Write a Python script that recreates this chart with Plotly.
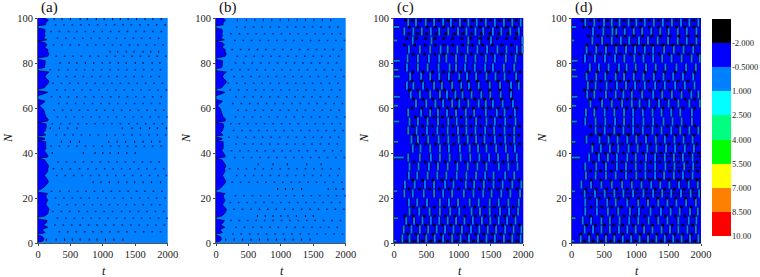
import plotly.graph_objects as go

LEVELS = [-3.5, -2, -0.5, 1, 2.5, 4, 5.5, 7, 8.5, 10]
LEVEL_COLORS = ["#000000", "#0000ff", "#0080ff", "#00ffff", "#00ff80", "#00ff00", "#ffff00", "#ff8000", "#ff0000"]
LEVEL_LABELS = ["-2.000", "-0.5000", "1.000", "2.500", "4.000", "5.500", "7.000", "8.500", "10.00"]
PANEL_NAMES = ["(a)", "(b)", "(c)", "(d)"]
X_TICKS = [0, 500, 1000, 1500, 2000]
Y_TICKS = [0, 20, 40, 60, 80, 100]
BASE_VALUES = [0.25, 0.25, -1.25, -1.25]

a_left_N = [0.4, 1, 2, 3, 3.4, 4, 4.6, 6, 7, 8, 9, 10, 10.6, 11.4, 12, 13, 14, 15, 16, 17, 18, 19, 20, 21, 22, 22.6, 23.4, 24, 25, 26, 27, 28, 29, 30, 31, 32, 33, 34, 35, 36, 37, 37.6, 38.2, 39, 40, 41, 42, 43, 44, 45, 45.5, 46, 46.6, 47, 47.5, 48, 49, 50, 51, 52, 53, 53.6, 54.2, 55, 56, 57, 58, 59, 60, 61, 62, 63, 63.8, 65.5, 66, 67, 67.7, 68.4, 69, 70, 71, 72, 73, 74, 75, 76, 76.6, 77.4, 78, 79, 80, 81, 81.6, 82.2, 83, 84, 85, 86, 87, 88, 89, 89.7, 90.3, 91, 92, 93, 94, 95, 95.5, 96.6, 97, 98, 99, 100]
a_left_t = [0, 80, 90, 60, 0, 0, 110, 60, 150, 80, 130, 140, 0, 0, 100, 150, 160, 170, 150, 120, 130, 150, 130, 120, 150, 0, 0, 50, 100, 130, 160, 150, 130, 100, 130, 150, 150, 165, 150, 130, 100, 0, 150, 150, 120, 100, 120, 120, 120, 120, 0, 100, 100, 0, 0, 120, 80, 110, 120, 130, 120, 0, 150, 160, 120, 110, 90, 90, 60, 20, 70, 110, 0, 0, 60, 150, 0, 0, 100, 120, 160, 170, 130, 110, 130, 170, 0, 0, 100, 110, 110, 110, 0, 0, 150, 170, 150, 150, 100, 140, 110, 0, 140, 80, 110, 100, 110, 100, 0, 0, 120, 120, 160, 110]

b_left_N = [0.4, 1, 2, 3, 3.4, 4, 4.6, 6, 7, 8, 9, 10, 10.6, 11.4, 12, 13, 14, 15, 16, 17, 18, 19, 20, 21, 22, 22.6, 23.4, 24, 25, 26, 27, 28, 29, 30, 31, 32, 33, 34, 35, 36, 37, 37.6, 38.2, 39, 40, 41, 42, 43, 44, 45, 45.5, 46, 46.6, 47, 47.5, 48, 49, 50, 51, 52, 53, 53.6, 54.2, 55, 56, 57, 58, 59, 60, 61, 62, 63, 63.8, 65.5, 66, 67, 67.7, 68.4, 69, 70, 71, 72, 73, 74, 75, 76, 76.6, 77.4, 78, 79, 80, 81, 81.6, 82.2, 83, 84, 85, 86, 87, 88, 89, 89.7, 90.3, 91, 92, 93, 94, 95, 95.5, 96.6, 97, 98, 99, 100]
b_left_t = [0, 70, 85, 60, 0, 0, 100, 60, 140, 70, 110, 130, 0, 0, 90, 130, 150, 160, 130, 100, 120, 140, 120, 110, 140, 0, 0, 50, 90, 120, 150, 140, 120, 100, 120, 140, 130, 150, 140, 120, 90, 0, 140, 140, 110, 90, 110, 110, 110, 110, 0, 90, 90, 0, 0, 110, 70, 100, 110, 120, 110, 0, 140, 150, 110, 100, 80, 80, 60, 20, 60, 100, 0, 0, 60, 140, 0, 0, 90, 110, 150, 160, 120, 100, 120, 160, 0, 0, 90, 100, 100, 100, 0, 0, 140, 160, 140, 140, 90, 130, 100, 0, 130, 70, 100, 90, 100, 90, 0, 0, 110, 110, 150, 100]

a_strong_N = [80, 27, 1.5, 45, 40, 85, 51, 99.5]
a_strong_t = [
    [340, 480, 600, 730, 860, 990, 1110, 1240, 1360, 1500, 1620, 1760, 1880],
    [850, 970, 1100, 1240, 1370, 1490, 1620, 1750, 1890],
    [130, 280, 410, 530, 650, 790, 910, 1040, 1170, 1310],
    [360, 500, 640, 1090, 1220, 1350, 1490, 1620, 1750, 1880],
    [220, 700, 880, 1000, 1110, 1240, 1370, 1500],
    [1110, 1230, 1360, 1480, 1620, 1740, 1860],
    [190, 330, 460, 600, 1300, 1450, 1580, 1720, 1840, 1980],
    [250, 370, 500, 650, 760, 900, 1020, 1150, 1270, 1390, 1520, 1650, 1770, 1900],
]
a_weak_N = [5, 8, 11, 14, 17, 20, 23, 30, 33, 36, 43, 48, 53, 56, 59, 62, 65, 68, 71, 74, 77, 83, 88, 91, 94, 97]
a_weak_t = [
    [1890, 1760, 1630, 1500, 1370, 1240, 1110, 980, 850, 720, 590, 460, 330],
    [260, 390, 520, 650, 780, 910, 1040, 1170, 1300, 1430, 1560, 1690, 1820, 1950],
    [300, 430, 560, 690, 820, 950, 1080, 1210, 1340, 1470, 1600, 1730, 1860, 1990],
    [230, 360, 490, 630, 760, 890, 1020, 1150, 1290, 1420, 1550, 1680, 1810, 1940],
    [320, 450, 580, 710, 840, 970, 1100, 1230, 1360, 1490, 1620, 1750, 1880],
    [270, 400, 530, 660, 790, 920, 1050, 1180, 1310, 1440, 1570, 1700, 1830, 1960],
    [210, 340, 480, 610, 740, 870, 1000, 1130, 1260, 1390, 1520, 1650, 1780, 1910],
    [290, 420, 550, 680, 810, 940, 1070, 1200, 1330, 1460, 1590, 1720, 1850, 1980],
    [240, 370, 500, 640, 770, 900, 1030, 1160, 1290, 1420, 1550, 1680, 1810, 1940],
    [310, 440, 570, 700, 830, 960, 1090, 1220, 1350, 1480, 1610, 1740, 1870],
    [200, 330, 470, 600, 730, 860, 990, 1120, 1250, 1380, 1510, 1640, 1770, 1900],
    [280, 410, 540, 670, 800, 930, 1060, 1190, 1320, 1450, 1580, 1710, 1840, 1970],
    [220, 350, 490, 620, 750, 880, 1010, 1140, 1270, 1400, 1530, 1660, 1790, 1920],
    [300, 430, 560, 690, 820, 950, 1080, 1210, 1340, 1470, 1600, 1730, 1860, 1990],
    [250, 380, 510, 640, 770, 900, 1030, 1160, 1290, 1420, 1550, 1680, 1810, 1940],
    [320, 450, 580, 710, 840, 970, 1100, 1230, 1360, 1490, 1620, 1750, 1880],
    [210, 340, 470, 600, 730, 860, 990, 1120, 1250, 1380, 1510, 1640, 1770, 1900],
    [290, 420, 550, 680, 810, 940, 1070, 1200, 1330, 1460, 1590, 1720, 1850, 1980],
    [230, 360, 490, 620, 750, 880, 1010, 1140, 1270, 1400, 1530, 1660, 1790, 1920],
    [310, 440, 570, 700, 830, 960, 1090, 1220, 1350, 1480, 1610, 1740, 1870],
    [190, 320, 460, 590, 720, 850, 980, 1110, 1240, 1370, 1500, 1630, 1760, 1890],
    [280, 410, 540, 670, 800, 930, 1060, 1190, 1320, 1450, 1580, 1710, 1840, 1970],
    [240, 370, 500, 630, 760, 890, 1020, 1150, 1280, 1410, 1540, 1670, 1800, 1930],
    [300, 430, 560, 690, 820, 950, 1080, 1210, 1340, 1470, 1600, 1730, 1860],
    [200, 330, 470, 600, 730, 860, 990, 1120, 1250, 1380, 1510, 1640, 1770, 1900],
    [270, 400, 530, 660, 790, 920, 1050, 1180, 1310, 1440, 1570, 1700, 1830, 1960],
]

b_strong_N = [24, 12, 35, 1.5, 99]
b_strong_t = [
    [950, 1070, 1180, 1320, 1730, 1850, 1960],
    [640, 760, 880, 1000, 1110, 1240, 1380, 1500],
    [650, 880, 1100, 1400, 1620],
    [150, 280, 410, 540, 670, 800, 930, 1060, 1190, 1320, 1450],
    [330, 470, 600, 730, 860, 990, 1120, 1250, 1380, 1510, 1640, 1770],
]
b_weak_N = [4, 7, 10, 15, 18, 21, 27, 30, 33, 38, 41, 44, 47, 50, 53, 56, 59, 62, 65, 68, 71, 74, 77, 80, 83, 86, 90, 93, 96]
b_weak_t = [
    [260, 390, 520, 650, 780, 910, 1040, 1170, 1300, 1430, 1560, 1690, 1820, 1950],
    [310, 440, 570, 700, 830, 960, 1090, 1220, 1350, 1480, 1610, 1740, 1870],
    [230, 360, 490, 620, 750, 880, 1010, 1140, 1270, 1400, 1530, 1660, 1790, 1920],
    [280, 410, 540, 670, 800, 930, 1060, 1190, 1320, 1450, 1580, 1710, 1840, 1970],
    [220, 350, 480, 610, 740, 870, 1000, 1130, 1260, 1390, 1520, 1650, 1780, 1910],
    [300, 430, 560, 690, 820, 950, 1080, 1210, 1340, 1470, 1600, 1730, 1860, 1990],
    [250, 380, 510, 640, 770, 900, 1030, 1160, 1290, 1420, 1550, 1680, 1810, 1940],
    [320, 450, 580, 710, 840, 970, 1100, 1230, 1360, 1490, 1620, 1750, 1880],
    [210, 340, 470, 600, 730, 860, 990, 1120, 1250, 1380, 1510, 1640, 1770, 1900],
    [290, 420, 550, 680, 810, 940, 1070, 1200, 1330, 1460, 1590, 1720, 1850, 1980],
    [240, 370, 500, 630, 760, 890, 1020, 1150, 1280, 1410, 1540, 1670, 1800, 1930],
    [310, 440, 570, 700, 830, 960, 1090, 1220, 1350, 1480, 1610, 1740, 1870],
    [200, 330, 460, 590, 720, 850, 980, 1110, 1240, 1370, 1500, 1630, 1760, 1890],
    [270, 400, 530, 660, 790, 920, 1050, 1180, 1310, 1440, 1570, 1700, 1830, 1960],
    [230, 360, 490, 620, 750, 880, 1010, 1140, 1270, 1400, 1530, 1660, 1790, 1920],
    [300, 430, 560, 690, 820, 950, 1080, 1210, 1340, 1470, 1600, 1730, 1860, 1990],
    [340, 470, 600, 730, 860, 990, 1120, 1250, 1380, 1510, 1640, 1770, 1900],
    [260, 390, 520, 650, 780, 910, 1040, 1170, 1300, 1430, 1560, 1690, 1820, 1950],
    [310, 440, 570, 700, 830, 960, 1090, 1220, 1350, 1480, 1610, 1740, 1870],
    [220, 350, 480, 610, 740, 870, 1000, 1130, 1260, 1390, 1520, 1650, 1780, 1910],
    [190, 320, 450, 580, 710, 840, 970, 1100, 1230, 1360, 1490, 1620, 1750, 1880],
    [280, 410, 540, 670, 800, 930, 1060, 1190, 1320, 1450, 1580, 1710, 1840, 1970],
    [240, 370, 500, 630, 760, 890, 1020, 1150, 1280, 1410, 1540, 1670, 1800, 1930],
    [300, 430, 560, 690, 820, 950, 1080, 1210, 1340, 1470, 1600, 1730, 1860],
    [330, 460, 590, 720, 850, 980, 1110, 1240, 1370, 1500, 1630, 1760, 1890],
    [250, 380, 510, 640, 770, 900, 1030, 1160, 1290, 1420, 1550, 1680, 1810, 1940],
    [290, 420, 550, 680, 810, 940, 1070, 1200, 1330, 1460, 1590, 1720, 1850, 1980],
    [230, 360, 490, 620, 750, 880, 1010, 1140, 1270, 1400, 1530, 1660, 1790, 1920],
    [320, 450, 580, 710, 840, 970, 1100, 1230, 1360, 1490, 1620, 1750, 1880],
]

c_stripe_N = [2, 6, 10, 14, 18, 22, 26, 30, 34, 38, 42, 46, 50, 54, 58, 62, 66, 70, 74, 78, 82, 86, 90, 94, 98]
c_stripe_t = [
    [130, 240, 370, 500, 630, 760, 900, 1030, 1160, 1300, 1430, 1560, 1700, 1830, 1960],
    [150, 270, 400, 530, 660, 790, 920, 1050, 1190, 1320, 1450, 1580, 1720, 1850, 1970],
    [190, 310, 440, 570, 700, 830, 960, 1090, 1220, 1360, 1490, 1620, 1750, 1880],
    [240, 390, 550, 710, 870, 1010, 1200, 1330, 1480, 1640, 1780, 1920],
    [230, 360, 510, 710, 850, 990, 1170, 1310, 1480, 1620, 1770, 1930],
    [160, 290, 460, 620, 760, 900, 1080, 1230, 1380, 1510, 1660, 1800, 1950],
    [170, 320, 480, 620, 790, 920, 1110, 1240, 1390, 1540, 1680, 1830, 1970],
    [230, 360, 520, 670, 810, 970, 1120, 1270, 1410, 1540, 1720, 1860],
    [240, 380, 540, 680, 830, 980, 1140, 1290, 1430, 1620, 1770, 1910],
    [220, 400, 570, 710, 860, 1030, 1180, 1320, 1470, 1610, 1760, 1900],
    [290, 410, 560, 710, 850, 1020, 1170, 1300, 1430, 1580, 1730, 1870],
    [270, 370, 530, 690, 840, 1000, 1140, 1270, 1400, 1560, 1720, 1860],
    [220, 350, 510, 670, 830, 990, 1120, 1260, 1410, 1550, 1710, 1860],
    [240, 370, 520, 680, 840, 970, 1120, 1270, 1430, 1560, 1720, 1880],
    [220, 420, 560, 680, 820, 960, 1110, 1240, 1420, 1590, 1710, 1870],
    [340, 500, 640, 760, 900, 1010, 1150, 1310, 1420, 1530, 1680, 1840],
    [260, 400, 560, 710, 820, 950, 1060, 1200, 1350, 1490, 1650, 1810],
    [200, 300, 450, 620, 740, 900, 1040, 1160, 1310, 1480, 1640, 1810, 1930],
    [250, 420, 560, 700, 850, 1010, 1130, 1270, 1430, 1570, 1710, 1890],
    [200, 370, 520, 690, 860, 960, 1100, 1250, 1410, 1530, 1700, 1860],
    [210, 370, 540, 700, 810, 960, 1110, 1260, 1420, 1560, 1730, 1880],
    [230, 400, 560, 720, 830, 980, 1140, 1290, 1440, 1600, 1740, 1900, 1985],
    [290, 580, 1150, 1320, 1500, 1985],
    [160, 300, 430, 570, 700, 840, 990, 1120, 1260, 1380, 1530, 1660, 1800, 1930],
    [220, 340, 490, 620, 760, 880, 1020, 1150, 1280, 1420, 1560, 1700, 1830, 1960],
]
c_dot_N = [1, 4, 8, 12, 16, 24, 28, 36, 44, 48, 52, 56, 60, 64, 68, 72, 76, 84, 88, 91, 93, 96, 99]
c_dot_t = [
    [190, 310, 440, 570, 700, 830, 960, 1090, 1230, 1360, 1500, 1630, 1770, 1900],
    [210, 340, 470, 600, 730, 860, 990, 1120, 1260, 1390, 1520, 1650, 1790, 1920],
    [230, 360, 490, 620, 750, 880, 1020, 1150, 1280, 1420, 1550, 1680, 1810, 1940],
    [170, 300, 470, 630, 790, 940, 1100, 1260, 1410, 1560, 1710, 1850],
    [300, 460, 620, 780, 930, 1090, 1250, 1400, 1550, 1700, 1850],
    [230, 400, 550, 700, 850, 1000, 1170, 1320, 1470, 1610, 1750, 1900],
    [290, 440, 600, 740, 890, 1040, 1190, 1340, 1480, 1630, 1790, 1930],
    [310, 480, 640, 790, 950, 1100, 1250, 1390, 1550, 1690, 1830],
    [350, 490, 640, 780, 930, 1090, 1240, 1370, 1500, 1650, 1800, 1940],
    [310, 450, 610, 760, 920, 1070, 1200, 1340, 1480, 1640, 1790, 1930],
    [290, 440, 590, 750, 910, 1050, 1190, 1340, 1490, 1640, 1790, 1940],
    [330, 490, 620, 750, 890, 1040, 1180, 1330, 1500, 1650, 1800],
    [280, 430, 570, 700, 830, 960, 1080, 1230, 1370, 1480, 1610, 1760, 1900],
    [300, 450, 600, 730, 860, 980, 1100, 1250, 1400, 1510, 1660, 1820],
    [240, 370, 510, 670, 780, 920, 1050, 1180, 1330, 1480, 1640, 1800],
    [280, 430, 590, 720, 870, 1020, 1150, 1290, 1450, 1610, 1760, 1910],
    [290, 450, 600, 770, 910, 1030, 1170, 1330, 1470, 1620, 1780, 1950],
    [300, 470, 630, 770, 900, 1050, 1200, 1360, 1510, 1670, 1820, 1950],
    [160, 320, 480, 640, 770, 910, 1060, 1210, 1370, 1520, 1670, 1820],
    [200, 350, 490, 640, 770, 910, 1050, 1190, 1330, 1460, 1600, 1740, 1880],
    [230, 370, 500, 650, 800, 930, 1060, 1200, 1350, 1480, 1620, 1760, 1900],
    [240, 370, 510, 640, 770, 920, 1060, 1200, 1330, 1460, 1600, 1740, 1870],
    [180, 280, 410, 550, 690, 830, 950, 1090, 1220, 1350, 1490, 1630, 1770, 1890],
]
c_left_N = [96, 90, 81, 77, 74, 65, 61, 54, 45, 38, 23, 11, 1]
c_left_t = [80, 50, 90, 70, 90, 90, 60, 80, 60, 150, 50, 60, 40]

d_stripe_N = [2, 6, 10, 14, 18, 22, 26, 30, 34, 38, 42, 46, 50, 54, 58, 62, 66, 70, 74, 78, 82, 86, 90, 94, 98]
d_stripe_t = [
    [140, 270, 400, 530, 660, 790, 920, 1050, 1180, 1310, 1440, 1570, 1700, 1830, 1960],
    [200, 330, 460, 590, 730, 860, 990, 1120, 1250, 1390, 1520, 1650, 1790, 1920],
    [170, 300, 460, 590, 740, 890, 1030, 1190, 1340, 1480, 1650, 1810, 1930],
    [210, 390, 560, 720, 900, 1040, 1220, 1380, 1530, 1670, 1830, 1950],
    [210, 390, 550, 680, 860, 1030, 1180, 1340, 1480, 1620, 1770, 1920],
    [200, 360, 510, 660, 800, 950, 1110, 1260, 1400, 1540, 1690, 1840, 1970],
    [150, 300, 460, 620, 780, 930, 1080, 1230, 1370, 1510, 1660, 1810, 1950],
    [220, 370, 530, 680, 840, 1000, 1140, 1290, 1430, 1580, 1720, 1870],
    [210, 380, 530, 700, 840, 990, 1140, 1290, 1450, 1590, 1740, 1880],
    [270, 420, 560, 700, 860, 990, 1150, 1290, 1440, 1580, 1720, 1870],
    [320, 450, 590, 720, 880, 1020, 1170, 1310, 1460, 1600, 1750, 1890],
    [230, 430, 570, 710, 860, 1000, 1150, 1300, 1440, 1590, 1730, 1870],
    [370, 510, 660, 800, 950, 1100, 1250, 1390, 1540, 1680, 1820, 1960],
    [210, 370, 520, 670, 810, 950, 1110, 1260, 1420, 1560, 1700, 1860],
    [220, 350, 510, 660, 810, 950, 1100, 1250, 1390, 1540, 1680, 1860],
    [290, 470, 620, 780, 930, 1050, 1200, 1350, 1500, 1650, 1820, 1980],
    [240, 350, 530, 680, 800, 930, 1090, 1260, 1400, 1550, 1700, 1850, 1960],
    [250, 370, 540, 700, 840, 980, 1130, 1290, 1440, 1600, 1750, 1900],
    [230, 380, 520, 680, 810, 960, 1110, 1270, 1420, 1570, 1720, 1880],
    [280, 420, 570, 730, 850, 990, 1150, 1300, 1450, 1620, 1770, 1920],
    [205, 360, 515, 670, 815, 970, 1110, 1260, 1400, 1545, 1700, 1855, 1980],
    [230, 380, 530, 690, 840, 980, 1130, 1260, 1430, 1580, 1730, 1880],
    [320, 470, 620, 760, 890, 1040, 1180, 1330, 1490, 1640, 1780, 1930],
    [330, 490, 630, 690, 820, 960, 1090, 1230, 1370, 1500, 1640, 1780, 1930],
    [210, 350, 500, 620, 740, 880, 1000, 1130, 1270, 1410, 1550, 1690, 1820, 1960],
]
d_dot_N = [1, 4, 8, 12, 16, 20, 24, 28, 32, 36, 40, 44, 48, 52, 60, 64, 68, 72, 76, 84, 88, 92, 96, 99]
d_dot_t = [
    [200, 330, 460, 600, 730, 860, 990, 1120, 1250, 1380, 1510, 1640, 1770, 1900],
    [140, 270, 400, 530, 660, 790, 930, 1060, 1190, 1320, 1460, 1590, 1720, 1860],
    [230, 370, 510, 650, 790, 950, 1100, 1250, 1410, 1560, 1720, 1870],
    [290, 470, 640, 810, 970, 1130, 1300, 1450, 1600, 1750, 1890],
    [300, 470, 620, 770, 950, 1100, 1260, 1410, 1550, 1700, 1850],
    [280, 430, 580, 730, 880, 1030, 1180, 1330, 1470, 1610, 1760, 1900],
    [220, 380, 540, 700, 860, 1010, 1160, 1300, 1440, 1590, 1740, 1880],
    [300, 450, 600, 760, 920, 1070, 1210, 1360, 1500, 1650, 1790, 1940],
    [290, 450, 610, 770, 910, 1060, 1210, 1370, 1520, 1660, 1810, 1950],
    [340, 490, 630, 780, 930, 1070, 1220, 1360, 1510, 1650, 1790, 1940],
    [380, 520, 650, 800, 950, 1100, 1240, 1380, 1530, 1670, 1820, 1960],
    [330, 500, 640, 780, 930, 1070, 1220, 1370, 1510, 1660, 1800, 1940],
    [300, 440, 590, 730, 880, 1030, 1170, 1320, 1470, 1610, 1750, 1890],
    [290, 440, 590, 740, 880, 1020, 1180, 1320, 1480, 1630, 1760, 1910],
    [380, 550, 700, 850, 990, 1120, 1280, 1420, 1570, 1730, 1900],
    [290, 440, 600, 740, 860, 990, 1150, 1310, 1450, 1600, 1760, 1900],
    [200, 310, 450, 610, 770, 910, 1060, 1210, 1370, 1520, 1680, 1820],
    [310, 450, 600, 750, 880, 1040, 1190, 1350, 1500, 1650, 1800],
    [250, 400, 550, 700, 830, 980, 1130, 1290, 1440, 1600, 1750, 1900],
    [280, 440, 590, 750, 910, 1050, 1190, 1350, 1500, 1650, 1800, 1950],
    [240, 400, 540, 690, 820, 960, 1110, 1250, 1410, 1560, 1700, 1860],
    [260, 410, 560, 700, 830, 960, 1100, 1240, 1380, 1520, 1660, 1800, 1940],
    [190, 280, 430, 560, 680, 810, 940, 1060, 1200, 1340, 1480, 1620, 1750, 1890],
    [160, 290, 420, 560, 690, 810, 930, 1070, 1200, 1340, 1480, 1620, 1760, 1890],
]
d_left_N = [96, 90, 81, 77, 74, 65, 61, 54, 45, 38, 23, 11, 1]
d_left_t = [70, 40, 90, 70, 90, 90, 70, 80, 60, 130, 50, 60, 40]
d_line_N = [22, 28.5, 33.5, 38.5, 48.5, 88]
d_line_from = [130, 1000, 1500, 1300, 300, 500]
d_line_to = [2000, 2000, 2000, 2000, 1100, 2000]

LEFT_FILL = [(a_left_N, a_left_t), (b_left_N, b_left_t)]
DOTS = [(a_strong_N, a_strong_t, a_weak_N, a_weak_t), (b_strong_N, b_strong_t, b_weak_N, b_weak_t)]
STRIPES = [(c_stripe_N, c_stripe_t, c_dot_N, c_dot_t, c_left_N, c_left_t),
           (d_stripe_N, d_stripe_t, d_dot_N, d_dot_t, d_left_N, d_left_t)]

W, H = 760, 277
PANEL_PX = [(38, 167.7), (216, 345.7), (394, 523.3), (571.7, 701)]
TOP, BOTTOM = 18, 243
BAR_X, BAR_Y = (712, 731), (19, 236)
FONT = "Liberation Serif"

color_lo, color_hi = LEVELS[0], LEVELS[-1]
scale = []
for i, col in enumerate(LEVEL_COLORS):
    scale.append([(LEVELS[i] - color_lo) / (color_hi - color_lo), col])
    scale.append([(LEVELS[i + 1] - color_lo) / (color_hi - color_lo), col])


def flat(rows_n, rows_t):
    xs, ys = [], []
    for n, ts in zip(rows_n, rows_t):
        for t in ts:
            xs.append(t)
            ys.append(n)
    return xs, ys


def bars(rows_n, rows_t, half):
    xs, ys = [], []
    for n, ts in zip(rows_n, rows_t):
        for t in ts:
            xs += [t, t, None]
            ys += [n - half, n + half, None]
    return xs, ys


def hbars(ns, ts):
    xs, ys = [], []
    for n, t in zip(ns, ts):
        xs += [0, t, None]
        ys += [n, n, None]
    return xs, ys


fig = go.Figure()
layout = dict(
    width=W, height=H, margin=dict(l=0, r=0, t=0, b=0, pad=0),
    paper_bgcolor="white", plot_bgcolor="white", showlegend=False,
    font=dict(family=FONT, size=10, color="#222222"),
)
annots = []

for i, (x0, x1) in enumerate(PANEL_PX):
    s = "" if i == 0 else str(i + 1)
    xa, ya = "x" + s, "y" + s
    layout["xaxis" + s] = dict(
        domain=[x0 / W, x1 / W], range=[0, 2000], anchor=ya, tickvals=X_TICKS, automargin=False,
        ticks="outside", ticklen=2, tickwidth=0.7, showgrid=False, zeroline=False,
        showline=True, linecolor="#555555", linewidth=0.7,
        tickfont=dict(family=FONT, size=10.5, color="#222222"),
    )
    layout["yaxis" + s] = dict(
        domain=[1 - BOTTOM / H, 1 - TOP / H], range=[0, 100], anchor=xa, tickvals=Y_TICKS, automargin=False,
        ticks="outside", ticklen=2, tickwidth=0.7, showgrid=False, zeroline=False,
        showline=True, linecolor="#555555", linewidth=0.7,
        tickfont=dict(family=FONT, size=10.5, color="#222222"),
    )
    v = BASE_VALUES[i]
    fig.add_trace(go.Heatmap(x=[0, 2000], y=[0, 100], z=[[v, v], [v, v]], xaxis=xa, yaxis=ya,
                             colorscale=scale, zmin=color_lo, zmax=color_hi, showscale=False,
                             hoverinfo="skip"))
    if i < 2:
        ln, lt = LEFT_FILL[i]
        fig.add_trace(go.Scatter(x=lt, y=ln, mode="lines", fill="tozerox", fillcolor="#0000ff",
                                 line=dict(color="#000060", width=0.8), xaxis=xa, yaxis=ya,
                                 hoverinfo="skip"))
        sn, st, wn, wt = DOTS[i]
        bx, by = bars(sn, st, 0.45)
        fig.add_trace(go.Scatter(x=bx, y=by, mode="lines", line=dict(color="#101030", width=1.1),
                                 xaxis=xa, yaxis=ya, hoverinfo="skip"))
        dx, dy = flat(wn, wt)
        fig.add_trace(go.Scatter(x=dx, y=dy, mode="markers",
                                 marker=dict(color="#0a2a70", size=1.7, symbol="square"),
                                 xaxis=xa, yaxis=ya, hoverinfo="skip"))
    else:
        sn, st, dn, dt, ln, lt = STRIPES[i - 2]
        bx, by = bars(sn, st, 1.8)
        hx, hy = hbars(ln, lt)
        fig.add_trace(go.Scatter(x=bx + hx, y=by + hy, mode="lines", line=dict(color="#000030", width=3.4),
                                 xaxis=xa, yaxis=ya, hoverinfo="skip"))
        if i == 3:
            ox, oy = [], []
            for n, a, b in zip(d_line_N, d_line_from, d_line_to):
                ox += [a, b, None]
                oy += [n, n, None]
            fig.add_trace(go.Scatter(x=ox, y=oy, mode="lines", line=dict(color="#000030", width=0.9),
                                     xaxis=xa, yaxis=ya, hoverinfo="skip"))
        fig.add_trace(go.Scatter(x=bx + hx, y=by + hy, mode="lines", line=dict(color="#0080ff", width=1.9),
                                 xaxis=xa, yaxis=ya, hoverinfo="skip"))
        dx, dy = flat(dn, dt)
        fig.add_trace(go.Scatter(x=dx, y=dy, mode="markers",
                                 marker=dict(color="#000018", size=3.2, symbol="circle"),
                                 xaxis=xa, yaxis=ya, hoverinfo="skip"))
    annots.append(dict(text=PANEL_NAMES[i], xref="paper", yref="paper", showarrow=False,
                       x=(x0 + 1) / W, y=1 - 8 / H, xanchor="left", yanchor="middle",
                       font=dict(family=FONT, size=15, color="#111111")))
    annots.append(dict(text="<i>t</i>", xref="paper", yref="paper", showarrow=False,
                       x=((x0 + x1) / 2 + 1) / W, y=1 - 271 / H, xanchor="center", yanchor="middle",
                       font=dict(family=FONT, size=12, color="#111111")))
    annots.append(dict(text="<i>N</i>", xref="paper", yref="paper", showarrow=False, textangle=-90,
                       x=(x0 - 30) / W, y=1 - 138 / H, xanchor="center", yanchor="middle",
                       font=dict(family=FONT, size=12, color="#111111")))

# colour key
bar_edges = LEVELS
bar_mid = [(bar_edges[i] + bar_edges[i + 1]) / 2 for i in range(len(LEVEL_COLORS))]
fig.add_trace(go.Heatmap(x=[0, 1], y=bar_edges, z=[[m] for m in bar_mid], xaxis="x5", yaxis="y5",
                         colorscale=scale, zmin=color_lo, zmax=color_hi, showscale=False,
                         hoverinfo="skip"))
layout["xaxis5"] = dict(domain=[BAR_X[0] / W, BAR_X[1] / W], range=[0, 1], anchor="y5", automargin=False,
                        showticklabels=False, ticks="", showgrid=False, zeroline=False, showline=False)
layout["yaxis5"] = dict(domain=[1 - BAR_Y[1] / H, 1 - BAR_Y[0] / H], range=[LEVELS[-1], LEVELS[0]],
                        anchor="x5", side="right", tickvals=LEVELS[1:], ticktext=LEVEL_LABELS, automargin=False,
                        ticks="", showgrid=False, zeroline=False, showline=False,
                        tickfont=dict(family=FONT, size=8.5, color="#222222"))
layout["annotations"] = annots
fig.update_layout(**layout)
fig.write_html("out.html", config={"displayModeBar": False},
               post_script="document.body.style.margin='0';document.documentElement.style.overflow='hidden';")
